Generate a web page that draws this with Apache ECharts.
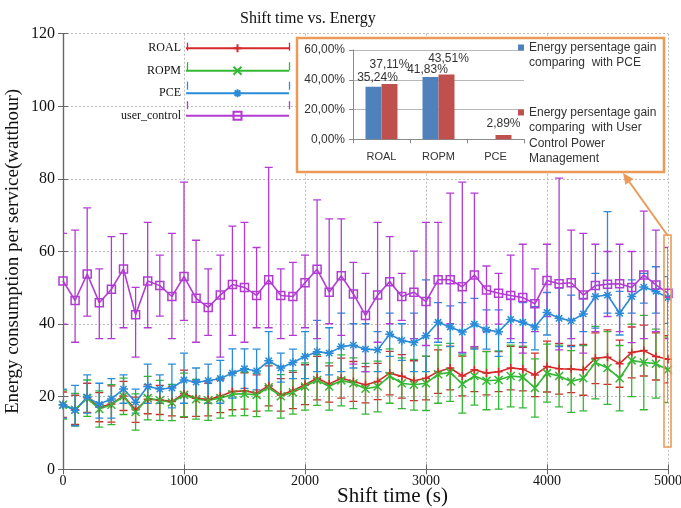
<!DOCTYPE html>
<html><head><meta charset="utf-8">
<script src="https://cdn.jsdelivr.net/npm/echarts@6/dist/echarts.min.js"></script>
<style>html,body{margin:0;padding:0;background:#fff}#c{width:681px;height:508px}</style>
</head><body><div id="c"></div>
<script>
// ---------- data ----------
const shiftTimes = [0,100,200,300,400,500,600,700,800,900,1000,1100,1200,1300,1400,1500,1600,1700,1800,1900,2000,2100,2200,2300,2400,2500,2600,2700,2800,2900,3000,3100,3200,3300,3400,3500,3600,3700,3800,3900,4000,4100,4200,4300,4400,4500,4600,4700,4800,4900,5000];
const roalMean = [17.8,16.4,19.7,17.1,18.0,20.2,16.4,19.3,19.1,18.7,20.8,19.6,19.2,20.1,21.4,21.6,21.0,23.0,20.5,21.7,23.3,25.1,23.5,25.1,24.2,23.3,24.2,26.5,25.6,24.4,25.1,26.9,27.9,25.7,27.4,26.5,26.9,27.9,27.6,26.0,28.3,27.7,27.6,27.4,30.6,30.9,29.1,32.2,32.7,31.1,30.3];
const roalErr = [3.5,4,4,4,5,4,3.5,4,4,4,6.5,5,4.5,4.5,5,5,5,5.5,4.5,5,5.5,6,5,5.5,5.5,5,5,6,6,5.5,6,6,6,5.5,6,6,5.5,6,6,6,7,7,6.5,7,7,7.5,6.5,7,7,6.5,6.5];
const ropmMean = [17.8,16.4,19.6,16.6,17.8,20.1,15.8,19.6,19.0,18.4,20.5,19.3,19.0,19.6,20.7,20.8,20.5,22.6,20.1,21.2,22.8,24.6,22.8,24.5,23.7,22.2,22.8,25.7,23.7,23.3,23.7,26.2,26.7,23.5,25.7,24.4,24.6,25.7,25.4,22.4,26.5,25.7,24.2,25.1,29.4,27.9,25.1,30.0,29.4,29.1,27.4];
const ropmErr = [4,4.5,5,5,5.5,5,5,6,5.5,5,6,5.5,5.5,5.5,6,6,6,6.5,6,6,6.5,7,6.5,7,7,7,7,7.5,7,7,7.5,8,8,8,8,8,8,8.5,8.5,8,8,8.5,8.5,9,10,10,9,10,13,9.5,9];
const pceMean = [17.7,16.3,19.9,17.9,19.4,22.1,18.5,22.8,22.1,22.4,24.6,24.0,24.4,25.0,26.5,27.7,27.1,29.9,27.9,29.4,31.1,32.4,32.0,33.8,34.2,33.1,32.9,37.2,35.5,34.9,36.8,40.5,39.2,37.8,40.0,38.4,37.9,41.3,40.5,39.2,43.2,41.6,40.9,42.8,47.6,48.0,43.0,47.6,50.2,49.0,47.3];
const pceLow = [14.1,12.0,15.5,14.1,14.1,18.2,15.5,18.2,18.2,16.9,18.2,19.6,18.2,18.2,19.6,22.3,21.9,23.0,24.0,25.0,25.0,26.9,26.0,26.9,27.9,26.9,26.9,31.1,30.0,26.9,26.9,35.0,33.8,32.0,33.1,33.1,31.1,34.9,34.9,32.9,37.0,33.8,33.8,37.9,38.9,43.0,37.0,43.0,45.8,43.0,40.2];
const pceHigh = [22.1,23.1,26.0,23.7,25.0,26.0,22.1,29.0,26.0,29.0,32.0,27.9,29.0,30.0,33.2,33.2,33.1,37.9,32.0,33.1,37.9,41.0,39.0,43.0,40.1,40.1,37.9,43.0,40.1,43.0,52.2,45.9,45.0,45.9,47.1,43.9,43.9,46.9,45.9,44.8,48.7,49.9,48.0,47.1,54.0,71.0,49.0,52.2,54.0,55.8,53.1];
const userMean = [51.9,46.5,53.8,45.9,49.6,55.2,42.6,51.9,50.6,47.6,53.1,47.1,44.6,48.0,50.9,50.1,47.9,52.2,47.9,47.6,51.4,55.1,48.8,53.3,48.3,42.4,48.0,51.7,47.6,48.8,46.2,52.2,52.2,50.3,53.5,49.4,48.5,47.9,47.3,45.6,52.0,51.1,51.4,48.0,50.6,51.0,51.1,50.1,53.5,50.8,48.5];
const userLow = [40.0,35.0,42.2,36.0,36.0,39.0,30.9,39.0,42.2,36.0,41.0,35.0,36.9,30.9,36.9,35.0,39.0,39.0,36.0,36.9,39.0,36.0,40.1,36.9,29.0,26.9,35.0,40.1,41.0,36.0,34.1,36.0,40.1,32.2,33.8,37.9,40.0,36.0,32.0,37.9,42.1,32.9,36.0,32.0,37.9,42.1,37.9,34.9,36.0,37.9,36.0];
const userHigh = [65.0,65.9,72.0,55.2,64.1,64.9,50.1,68.0,59.0,65.0,79.1,63.1,55.2,59.0,67.0,68.0,61.1,83.2,55.2,57.0,59.0,74.2,69.0,69.0,57.0,54.0,68.0,64.1,54.0,60.1,68.0,68.0,76.1,79.1,76.1,56.0,54.0,59.0,62.0,55.2,62.0,80.2,65.9,65.0,62.0,60.0,62.0,60.0,71.1,65.9,61.1];

const insetCategories = ['ROAL','ROPM','PCE'];
const gainVsPCE = [35.24, 41.83, null];
const gainVsUser = [37.11, 43.51, 2.89];
const insetTicks = [0, 20, 40, 60];

// ---------- styles ----------
const SERIF = 'Liberation Serif';
const SANS = 'Liberation Sans';
const COL = {roal:'#d52a2c', ropm:'#33b833', pce:'#2a8bd8', user:'#b23bd3'};
const ORANGE = '#eb9b57';
const pceLabelOffsets = [[4,2],[-3,4],[0,0]];
const userLabelOffsets = [[0,-8],[2,-5],[0,0]];
const nameA = 'Energy persentage gain comparing  with PCE';
const nameB = 'Energy persentage gain comparing  with User Control Power Management';

function errSeries(name, color, lows, highs) {
  return {
    type: 'custom', name: name + ' err', xAxisIndex: 0, yAxisIndex: 0, z: 3,
    silent: true, clip: true,
    encode: {x: 0, y: [1, 2]},
    data: shiftTimes.map((t, i) => [t, lows[i], highs[i]]),
    renderItem(params, api) {
      const x = api.value(0);
      const p1 = api.coord([x, api.value(1)]);
      const p2 = api.coord([x, api.value(2)]);
      const w = 4;
      const style = {stroke: color, lineWidth: 1.3};
      return {type: 'group', children: [
        {type: 'line', shape: {x1: p1[0], y1: p1[1], x2: p2[0], y2: p2[1]}, style},
        {type: 'line', shape: {x1: p1[0]-w, y1: p1[1], x2: p1[0]+w, y2: p1[1]}, style},
        {type: 'line', shape: {x1: p2[0]-w, y1: p2[1], x2: p2[0]+w, y2: p2[1]}, style}
      ]};
    }
  };
}
function lineSeries(name, color, means, symbol, size) {
  return {
    type: 'line', name, xAxisIndex: 0, yAxisIndex: 0, z: 4,
    data: shiftTimes.map((t, i) => [t, means[i]]),
    symbol, symbolSize: size, showAllSymbol: true,
    lineStyle: {color, width: 1.6},
    itemStyle: {color: 'none', borderColor: color, borderWidth: 1.5},
    emphasis: {disabled: true}
  };
}
const roalLow = roalMean.map((m, i) => m - roalErr[i]);
const roalHigh = roalMean.map((m, i) => m + roalErr[i]);
const ropmLow = ropmMean.map((m, i) => m - ropmErr[i]);
const ropmHigh = ropmMean.map((m, i) => m + ropmErr[i]);

const SYM_PLUS = 'path://M5,0V10M0,5H10';
const SYM_X = 'path://M0,0L10,10M10,0L0,10';
const SYM_STAR = 'path://M5,0V10M0,5H10M1.5,1.5L8.5,8.5M8.5,1.5L1.5,8.5';
const SYM_SQ = 'path://M0,0H10V10H0Z';

const pct = v => v.toFixed(2).replace('.', ',') + '%';

const legendRows = [46.7, 66.2, 85.7, 105.2];
const legendCols = [COL.roal, COL.ropm, COL.pce, COL.user];
const capGraphics = [];
legendRows.forEach((y, i) => {
  [187.5, 289.5].forEach(x => capGraphics.push({type: 'line', shape: {x1: x, y1: y-4, x2: x, y2: y+4}, style: {stroke: legendCols[i], lineWidth: 1.3}, z: 7}));
});

const chart = echarts.init(document.getElementById('c'), null, {renderer: 'canvas'});
chart.setOption({
  animation: false,
  backgroundColor: '#fff',
  title: {text: 'Shift time vs. Energy', left: 235, top: 6,
    textStyle: {fontFamily: SERIF, fontSize: 16, fontWeight: 'normal', color: '#111'}},
  grid: [
    {left: 63, right: 13, top: 33.7, bottom: 38.7, containLabel: false, outerBoundsMode: 'none'},
    {left: 353, top: 50, width: 171, height: 89.3, z: 20, containLabel: false, outerBoundsMode: 'none'}
  ],
  xAxis: [
    {type: 'value', gridIndex: 0, min: 0, max: 5000, interval: 1000,
      name: 'Shift time (s)', nameLocation: 'middle', nameGap: 17, nameMoveOverlap: false,
      nameTextStyle: {fontFamily: SERIF, fontSize: 21, color: '#111', padding: [0, 0, 0, 54]},
      axisLine: {lineStyle: {color: '#666', width: 1.2}},
      axisTick: {inside: true, length: 5, lineStyle: {color: '#666'}},
      axisLabel: {fontFamily: SERIF, fontSize: 14, color: '#111', margin: 5, formatter: v => String(v)},
      splitLine: {show: true, lineStyle: {color: '#bbb', type: [2, 2]}}},
    {type: 'value', gridIndex: 0, position: 'top', min: 0, max: 5000, interval: 1000,
      axisLine: {lineStyle: {color: '#666', width: 1.2}},
      axisTick: {inside: true, length: 5, lineStyle: {color: '#666'}},
      axisLabel: {show: false}, splitLine: {show: false}},
    {type: 'category', gridIndex: 1, data: insetCategories, z: 20,
      axisLine: {lineStyle: {color: '#8a8a8a'}},
      axisTick: {show: true, length: 4, lineStyle: {color: '#8a8a8a'}},
      axisLabel: {fontFamily: SANS, fontSize: 11, color: '#333', margin: 12}}
  ],
  yAxis: [
    {type: 'value', gridIndex: 0, min: 0, max: 120, interval: 20,
      name: 'Energy consumption per service(watthour)', nameLocation: 'middle', nameGap: 40, nameMoveOverlap: false,
      nameTextStyle: {fontFamily: SERIF, fontSize: 19, color: '#111'},
      axisLine: {show: true, lineStyle: {color: '#666', width: 1.2}},
      axisTick: {show: true, inside: true, length: 5, lineStyle: {color: '#666'}},
      axisLabel: {fontFamily: SERIF, fontSize: 16, color: '#111', margin: 8, formatter: v => String(v)},
      splitLine: {show: true, lineStyle: {color: '#bbb', type: [2, 2]}}},
    {type: 'value', gridIndex: 0, position: 'right', min: 0, max: 120, interval: 20,
      axisLine: {show: true, lineStyle: {color: '#666', width: 1.2}},
      axisTick: {show: true, inside: true, length: 5, lineStyle: {color: '#666'}},
      axisLabel: {show: false}, splitLine: {show: false}},
    {type: 'value', gridIndex: 1, min: insetTicks[0], max: insetTicks[insetTicks.length-1], interval: 20, z: 20,
      axisLine: {show: true, lineStyle: {color: '#8a8a8a'}},
      axisTick: {show: true, length: 4, lineStyle: {color: '#8a8a8a'}},
      axisLabel: {fontFamily: SANS, fontSize: 12, color: '#333', margin: 8, formatter: v => pct(v)},
      splitLine: {show: true, lineStyle: {color: '#b8b8b8', width: 1}}}
  ],
  legend: [
    {orient: 'vertical', align: 'right', right: 391, top: 41.7, padding: 0,
      itemWidth: 103, itemHeight: 10, itemGap: 9.5, z: 6,
      data: ['ROAL', 'ROPM', 'PCE', 'user_control'],
      textStyle: {fontFamily: SERIF, fontSize: 12, color: '#111'}},
    {orient: 'vertical', left: 518, top: 24.25, padding: 0, z: 20,
      icon: 'rect', itemWidth: 6, itemHeight: 6,
      data: [nameA],
      formatter: () => ' \nEnergy persentage gain\ncomparing  with PCE',
      textStyle: {fontFamily: SANS, fontSize: 12, color: '#333', lineHeight: 15.5}},
    {orient: 'vertical', left: 518, top: 58.25, padding: 0, z: 20,
      icon: 'rect', itemWidth: 6, itemHeight: 6,
      data: [nameB],
      formatter: () => ' \n \n \nEnergy persentage gain\ncomparing  with User\nControl Power\nManagement',
      textStyle: {fontFamily: SANS, fontSize: 12, color: '#333', lineHeight: 15.5}}
  ],
  graphic: [
    {type: 'rect', shape: {x: 297, y: 38, width: 367, height: 134}, style: {fill: '#fff', stroke: ORANGE, lineWidth: 2.5}, z: 10},
    {type: 'rect', shape: {x: 664, y: 235, width: 7, height: 212}, style: {fill: 'none', stroke: ORANGE, lineWidth: 1.6}, z: 10},
    {type: 'line', shape: {x1: 668, y1: 236, x2: 628, y2: 180}, style: {stroke: ORANGE, lineWidth: 2}, z: 10},
    {type: 'polygon', shape: {points: [[623, 173], [625.4, 184.8], [633.4, 179]]}, style: {fill: ORANGE}, z: 10}
  ].concat(capGraphics),
  series: [
    errSeries('ROAL', COL.roal, roalLow, roalHigh),
    errSeries('ROPM', COL.ropm, ropmLow, ropmHigh),
    errSeries('PCE', COL.pce, pceLow, pceHigh),
    errSeries('user_control', COL.user, userLow, userHigh),
    lineSeries('ROAL', COL.roal, roalMean, SYM_PLUS, 8),
    lineSeries('ROPM', COL.ropm, ropmMean, SYM_X, 8),
    lineSeries('PCE', COL.pce, pceMean, SYM_STAR, 9),
    lineSeries('user_control', COL.user, userMean, SYM_SQ, 8),
    {type: 'bar', name: nameA, xAxisIndex: 2, yAxisIndex: 2, z: 20,
      barWidth: 16, barGap: '0%', itemStyle: {color: '#4f81bd'},
      label: {show: true, position: 'top', fontFamily: SANS, fontSize: 12, color: '#333', formatter: p => pct(p.value)},
      data: gainVsPCE.map((v, i) => v === null ? '-' : ({value: v, label: {offset: pceLabelOffsets[i]}}))},
    {type: 'bar', name: nameB, xAxisIndex: 2, yAxisIndex: 2, z: 20,
      barWidth: 16, barGap: '0%', itemStyle: {color: '#c0504d'},
      label: {show: true, position: 'top', fontFamily: SANS, fontSize: 12, color: '#333', formatter: p => pct(p.value)},
      data: gainVsUser.map((v, i) => ({value: v, label: {offset: userLabelOffsets[i]}}))}
  ]
});
</script>
</body></html>
